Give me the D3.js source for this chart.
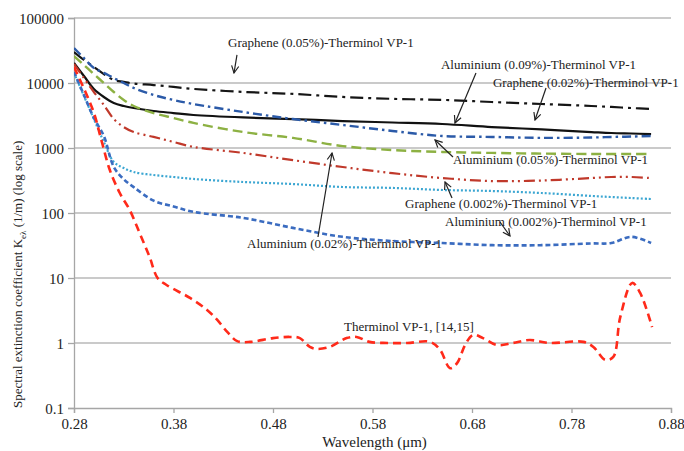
<!DOCTYPE html>
<html>
<head>
<meta charset="utf-8">
<script src="https://cdn.jsdelivr.net/npm/d3@7/dist/d3.min.js"></script>
<style>
  html, body { margin: 0; padding: 0; background: #fff; }
  svg { display: block; }
  text { font-family: "Liberation Serif", "Times New Roman", "DejaVu Serif", serif; fill: #222; }
</style>
</head>
<body>
<svg id="chart" width="684" height="451"></svg>
<script>
// ---------------- DATA ----------------
const wavelengths = [0.28, 0.29, 0.30, 0.31, 0.32, 0.33, 0.34, 0.36, 0.38, 0.40, 0.45, 0.50, 0.55, 0.60, 0.65, 0.70, 0.75, 0.80, 0.82, 0.84, 0.86];

const graphene005 = [30000, 22600, 17600, 13700, 11100, 10400, 9800, 9300, 8700, 8100, 7300, 6800, 6100, 5700, 5500, 5100, 4750, 4430, 4280, 4120, 3980];
const aluminium009 = [20300, 12800, 8080, 6090, 4920, 4430, 4120, 3710, 3450, 3220, 2950, 2790, 2600, 2470, 2340, 2100, 1930, 1760, 1700, 1670, 1640];
const aluminium005 = [34500, 24200, 17000, 14300, 11900, 10000, 8380, 6540, 5480, 4750, 3580, 2790, 2260, 1830, 1530, 1480, 1430, 1450, 1480, 1500, 1530];
const aluminium002 = [26000, 18900, 13700, 10000, 7270, 5480, 4430, 3450, 2890, 2430, 1760, 1430, 1070, 930, 870, 840, 820, 810, 810, 810, 810];
const graphene0002 = [19600, 11900, 7270, 4590, 2790, 2100, 1760, 1480, 1240, 1040, 840, 650, 510, 410, 345, 310, 316, 345, 358, 358, 345];
const graphene002 = [14300, 6310, 2790, 1240, 610, 492, 427, 384, 358, 334, 300, 279, 251, 243, 226, 218, 203, 183, 176, 170, 164];
const aluminium0002 = [14800, 6540, 2890, 1530, 510, 330, 250, 155, 126, 104, 84, 59, 43, 37, 34.5, 32, 32, 34, 34.5, 43, 34.5];

const therminolWl = [0.280, 0.299, 0.308, 0.316, 0.326, 0.336, 0.346, 0.356, 0.364, 0.373, 0.397, 0.414, 0.424, 0.434, 0.444, 0.457, 0.480, 0.497, 0.507, 0.517, 0.524, 0.537, 0.554, 0.564, 0.577, 0.595, 0.615, 0.638, 0.648, 0.658, 0.665, 0.673, 0.681, 0.691, 0.705, 0.721, 0.738, 0.758, 0.792, 0.802, 0.814, 0.822, 0.829, 0.841, 0.849, 0.861];
const therminolK = [17600, 3840, 1240, 458, 203, 111, 49, 21, 10, 7.8, 4.9, 3.2, 2.26, 1.48, 1.07, 1.04, 1.19, 1.24, 1.19, 0.87, 0.81, 0.87, 1.19, 1.24, 1.04, 1.0, 1.0, 1.04, 0.78, 0.41, 0.49, 0.93, 1.33, 1.19, 0.93, 1.0, 1.11, 1.0, 1.04, 0.87, 0.55, 0.61, 2.5, 8.4, 5.9, 1.76];

const xTicks = [0.28, 0.38, 0.48, 0.58, 0.68, 0.78, 0.88];
const yTicks = [0.1, 1, 10, 100, 1000, 10000, 100000];
const yTickLabels = ["0.1", "1", "10", "100", "1000", "10000", "100000"];

// annotations: label, text anchor (wavelength, K), arrow from -> to (wavelength, K)
const annotations = [
  { text: "Graphene (0.05%)-Therminol VP-1", at: [0.4348, 35200], arrow: [[0.4438, 27000], [0.4408, 14250]] },
  { text: "Aluminium (0.09%)-Therminol VP-1", at: [0.6488, 16400], arrow: [[0.684, 14250], [0.6629, 2425]] },
  { text: "Graphene (0.02%)-Therminol VP-1", at: [0.7011, 8770], arrow: [[0.7544, 8380], [0.7433, 2700]] },
  { text: "Aluminium (0.05%)-Therminol VP-1", at: [0.6609, 567], arrow: [[0.6609, 727], [0.6428, 1327]] },
  { text: "Graphene (0.002%)-Therminol VP-1", at: [0.6127, 119], arrow: [[0.6599, 170], [0.6529, 300]] },
  { text: "Aluminium (0.002%)-Therminol VP-1", at: [0.6529, 63.8], arrow: [[0.7081, 72.7], [0.7182, 44.3]] },
  { text: "Aluminium (0.02%)-Therminol VP-1", at: [0.4539, 28.9], arrow: [[0.5252, 42.7], [0.5393, 838]] },
  { text: "Therminol VP-1, [14,15]", at: [0.5514, 1.53], arrow: null }
];

// ---------------- STYLES ----------------
const seriesList = [
  { wl: wavelengths, k: graphene005,   color: "#151515", dash: "13,5,3,5",      width: 2.2 },
  { wl: wavelengths, k: aluminium009,  color: "#111111", dash: null,            width: 2.2 },
  { wl: wavelengths, k: aluminium005,  color: "#2b5aa8", dash: "9,4,2.5,4",     width: 2.4 },
  { wl: wavelengths, k: aluminium002,  color: "#8db143", dash: "10,5",          width: 2.4 },
  { wl: wavelengths, k: graphene0002,  color: "#c0392b", dash: "11,4,2,4,2,4",  width: 2.2 },
  { wl: wavelengths, k: graphene002,   color: "#3ba6d2", dash: "2,2",           width: 2.2 },
  { wl: wavelengths, k: aluminium0002, color: "#3b6cc0", dash: "5,3",           width: 2.6 },
  { wl: therminolWl, k: therminolK,    color: "#ff2a1a", dash: "8,5",           width: 2.6 }
];

// ---------------- CHART ----------------
const W = 684, H = 451;
const margin = { left: 74, right: 13, top: 18, bottom: 43 };
const svg = d3.select("#chart");
const FONT = '"Liberation Serif", "Times New Roman", "DejaVu Serif", serif';

const x = d3.scaleLinear().domain([0.28, 0.88]).range([margin.left, W - margin.right]);
const y = d3.scaleLog().domain([0.1, 100000]).range([H - margin.bottom, margin.top]);

// gridlines
svg.append("g")
  .selectAll("line")
  .data(yTicks.slice(1))
  .join("line")
  .attr("x1", x(0.28)).attr("x2", x(0.88))
  .attr("y1", d => y(d)).attr("y2", d => y(d))
  .attr("stroke", "#b9b9b9").attr("stroke-width", 1.5);

// axes
const xAxis = d3.axisBottom(x).tickValues(xTicks).tickFormat(d3.format(".2f")).tickSize(5).tickPadding(5);
const gx = svg.append("g").attr("transform", `translate(0,${y(0.1)})`).call(xAxis);
const yAxis = d3.axisLeft(y).tickValues(yTicks).tickFormat((d, i) => yTickLabels[i]).tickSize(6).tickPadding(4);
const gy = svg.append("g").attr("transform", `translate(${x(0.28)},0)`).call(yAxis);

[gx, gy].forEach(g => {
  g.select(".domain").attr("stroke", "#a6a6a6").attr("stroke-width", 1.3);
  g.selectAll(".tick line").attr("stroke", "#a6a6a6").attr("stroke-width", 1.3);
  g.selectAll(".tick text")
    .style("font-family", FONT)
    .style("font-size", "15px").attr("fill", "#222");
});
gx.selectAll(".tick text").attr("dy", "0.71em");
gy.selectAll(".tick text").attr("dy", "0.34em");

// axis titles
svg.append("text")
  .attr("x", (x(0.28) + x(0.88)) / 2 + 2).attr("y", 447)
  .attr("text-anchor", "middle").style("font-size", "15px")
  .text("Wavelength (\u03bcm)");

const yt = svg.append("text")
  .attr("transform", `translate(22,${y(0.1)}) rotate(-90)`)
  .attr("text-anchor", "start").style("font-size", "13px");
yt.append("tspan").text("Spectral extinction coefficient K");
yt.append("tspan").attr("dy", 4).style("font-size", "9px").text("e\u03bb");
yt.append("tspan").attr("dy", -4).text(" (1/m) (log scale)");

// lines
const line = d3.line()
  .x(d => x(d[0])).y(d => y(d[1]))
  .curve(d3.curveCatmullRom.alpha(0.5));

const defs = svg.append("defs");
defs.append("clipPath").attr("id", "plot-clip")
  .append("rect").attr("x", x(0.28)).attr("y", y(100000) - 4)
  .attr("width", x(0.88) - x(0.28)).attr("height", y(0.1) - y(100000) + 4);

svg.append("g").attr("clip-path", "url(#plot-clip)")
  .selectAll("path")
  .data(seriesList)
  .join("path")
  .attr("d", s => line(s.wl.map((w, i) => [w, s.k[i]])))
  .attr("fill", "none")
  .attr("stroke", s => s.color)
  .attr("stroke-width", s => s.width)
  .attr("stroke-dasharray", s => s.dash);

// annotations
defs.append("marker")
  .attr("id", "arrowhead").attr("viewBox", "0 0 10 10")
  .attr("refX", 9).attr("refY", 5)
  .attr("markerWidth", 9).attr("markerHeight", 9)
  .attr("markerUnits", "userSpaceOnUse")
  .attr("orient", "auto")
  .append("path").attr("d", "M1,1 L9,5 L1,9")
  .attr("fill", "none").attr("stroke", "#222").attr("stroke-width", 1.3);

const ann = svg.append("g");
ann.selectAll("line")
  .data(annotations.filter(a => a.arrow))
  .join("line")
  .attr("x1", a => x(a.arrow[0][0])).attr("y1", a => y(a.arrow[0][1]))
  .attr("x2", a => x(a.arrow[1][0])).attr("y2", a => y(a.arrow[1][1]))
  .attr("stroke", "#222").attr("stroke-width", 1.2)
  .attr("marker-end", "url(#arrowhead)");

ann.selectAll("text")
  .data(annotations)
  .join("text")
  .attr("x", a => x(a.at[0])).attr("y", a => y(a.at[1]))
  .style("font-size", "13px")
  .text(a => a.text);
</script>
</body>
</html>
